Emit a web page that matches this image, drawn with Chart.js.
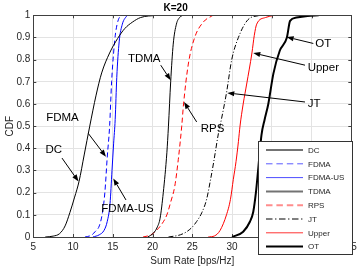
<!DOCTYPE html>
<html>
<head>
<meta charset="utf-8">
<script src="https://cdn.jsdelivr.net/npm/chart.js@4.4.1/dist/chart.umd.min.js"></script>
<style>
  html, body { margin: 0; padding: 0; background: #fff; }
  #wrap { width: 357px; height: 267px; }
</style>
</head>
<body>
<div id="wrap"><canvas id="cdf" width="357" height="267"></canvas></div>
<script>
// ---- data (sum rate in bps/Hz vs CDF) ----
const seriesNames = ["DC", "FDMA", "FDMA-US", "TDMA", "RPS", "JT", "Upper", "OT"];

const dcX = [6.5, 7.5, 8.3, 9.0, 9.6, 10.2, 10.75, 11.4, 12.1, 12.9, 13.6, 14.6, 15.6, 16.5, 17.5, 18.5, 20.5];
const dcY = [0, 0.004, 0.015, 0.05, 0.11, 0.18, 0.25, 0.37, 0.5, 0.64, 0.74, 0.83, 0.895, 0.94, 0.97, 0.99, 1];

const fdmaX = [11.5, 12.3, 12.8, 13.3, 13.7, 14.0, 14.3, 14.6, 14.85, 15.1, 15.35, 15.7, 16.1];
const fdmaY = [0, 0.008, 0.025, 0.05, 0.11, 0.2, 0.36, 0.5, 0.7, 0.83, 0.92, 0.98, 1];

const fdmaUsX = [12.5, 13.3, 13.9, 14.3, 14.65, 14.9, 15.1, 15.3, 15.5, 15.8, 16.2, 16.8];
const fdmaUsY = [0, 0.01, 0.03, 0.07, 0.15, 0.3, 0.42, 0.53, 0.72, 0.88, 0.96, 1];

const tdmaX = [19.4, 20.1, 20.6, 20.95, 21.35, 21.8, 22.0, 22.28, 22.6, 23.0, 23.4, 23.8];
const tdmaY = [0, 0.017, 0.045, 0.085, 0.2, 0.38, 0.5, 0.7, 0.87, 0.96, 0.99, 1];

const rpsX = [18.8, 19.8, 20.5, 21.2, 21.8, 22.3, 22.8, 23.24, 23.67, 23.9, 24.5, 25.3, 26.4, 27.6];
const rpsY = [0, 0.01, 0.03, 0.06, 0.1, 0.16, 0.23, 0.35, 0.5, 0.6, 0.78, 0.9, 0.97, 1];

const jtX = [22.0, 23.5, 24.3, 25.0, 25.55, 26.2, 26.8, 27.3, 27.7, 28.3, 28.6, 29.3, 29.96, 30.8, 32.0, 33.5];
const jtY = [0, 0.01, 0.024, 0.045, 0.07, 0.11, 0.17, 0.26, 0.34, 0.47, 0.52, 0.65, 0.8, 0.9, 0.98, 1];

const upperX = [27.0, 27.8, 28.5, 29.3, 29.8, 30.16, 30.5, 30.8, 31.0, 31.4, 31.84, 32.5, 32.8, 33.1, 34.2, 35.3];
const upperY = [0, 0.005, 0.03, 0.1, 0.17, 0.26, 0.34, 0.43, 0.5, 0.6, 0.69, 0.83, 0.91, 0.96, 0.99, 1];

const otX = [30.0, 31.4, 32.26, 32.67, 33.0, 33.3, 33.7, 34.1, 34.56, 35.2, 36.0, 36.9, 37.3, 38.1, 39.5, 40.9];
const otY = [0, 0.024, 0.07, 0.114, 0.2, 0.31, 0.46, 0.53, 0.6, 0.737, 0.84, 0.9, 0.975, 0.99, 0.997, 1];

const xTicks = [5, 10, 15, 20, 25, 30, 35, 40, 45];
const yTicks = [0, 0.1, 0.2, 0.3, 0.4, 0.5, 0.6, 0.7, 0.8, 0.9, 1];

// text callouts: label centre and arrow (tail -> head), in data units
const noteText  = ["DC", "FDMA", "FDMA-US", "TDMA", "RPS", "JT", "Upper", "OT"];
const noteX     = [7.57, 8.67, 16.85, 18.95, 27.54, 40.33, 41.48, 41.48];
const noteY     = [0.392, 0.536, 0.125, 0.803, 0.488, 0.6, 0.762, 0.871];
const arrowFromX = [8.61, 11.92, 16.66, 21.03, 25.55, 39.18, 39.18, 40.22];
const arrowFromY = [0.356, 0.467, 0.167, 0.775, 0.519, 0.609, 0.775, 0.873];
const arrowToX   = [10.69, 14.14, 15.06, 22.28, 23.96, 29.4, 32.67, 36.87];
const arrowToY   = [0.25, 0.362, 0.264, 0.707, 0.609, 0.65, 0.83, 0.902];

const FONT = "'Liberation Sans', Arial, Helvetica, sans-serif";
const INK = "#262626";

function pts(xs, ys) { return xs.map((x, i) => ({ x: x, y: ys[i] })); }

function line(label, xs, ys, color, width, dash) {
  return {
    label: label,
    data: pts(xs, ys),
    borderColor: color,
    backgroundColor: color,
    borderWidth: width,
    borderDash: dash,
    pointRadius: 0,
    fill: false,
    cubicInterpolationMode: "monotone"
  };
}

const datasets = [
  line(seriesNames[0], dcX, dcY, "#000000", 1, []),
  line(seriesNames[1], fdmaX, fdmaY, "#0000ff", 1, [5, 3]),
  line(seriesNames[2], fdmaUsX, fdmaUsY, "#0000ff", 1, []),
  line(seriesNames[3], tdmaX, tdmaY, "#000000", 1, []),
  line(seriesNames[4], rpsX, rpsY, "#ff0000", 1, [5, 3]),
  line(seriesNames[5], jtX, jtY, "#000000", 1, [5, 2, 1, 2]),
  line(seriesNames[6], upperX, upperY, "#ff0000", 1, []),
  line(seriesNames[7], otX, otY, "#000000", 2, [])
];

// legend swatches look a bit washed out in the original
const legendAlpha = [0.55, 0.65, 0.7, 0.55, 0.45, 1, 0.8, 1];
const legendWidth = [2, 1, 1, 2, 2, 1, 1, 2];

// ---- drawing helpers ----
const boxPlugin = {
  id: "box",
  beforeDatasetsDraw(chart) {
    const { ctx, chartArea: a, scales } = chart;
    ctx.save();
    ctx.strokeStyle = "#404040";
    ctx.lineWidth = 1;
    // inward tick marks, MATLAB style
    ctx.beginPath();
    xTicks.forEach(v => {
      const px = Math.round(scales.x.getPixelForValue(v)) + 0.5;
      ctx.moveTo(px, a.bottom); ctx.lineTo(px, a.bottom - 3);
      ctx.moveTo(px, a.top); ctx.lineTo(px, a.top + 3);
    });
    yTicks.forEach(v => {
      const py = Math.round(scales.y.getPixelForValue(v)) + 0.5;
      ctx.moveTo(a.left, py); ctx.lineTo(a.left + 3, py);
      ctx.moveTo(a.right, py); ctx.lineTo(a.right - 3, py);
    });
    ctx.stroke();
    ctx.restore();
  },
  afterDatasetsDraw(chart) {
    const { ctx, chartArea: a, scales } = chart;
    ctx.save();
    ctx.strokeStyle = "#404040";
    ctx.lineWidth = 1;
    ctx.strokeRect(Math.round(a.left) + 0.5, Math.round(a.top) + 0.5,
      Math.round(a.right - a.left), Math.round(a.bottom - a.top));

    // callouts
    ctx.fillStyle = "#000";
    ctx.strokeStyle = "#000";
    ctx.font = "11.5px " + FONT;
    ctx.textAlign = "center";
    ctx.textBaseline = "middle";
    noteText.forEach((t, i) => {
      ctx.fillText(t, scales.x.getPixelForValue(noteX[i]), scales.y.getPixelForValue(noteY[i]));
      const x0 = scales.x.getPixelForValue(arrowFromX[i]);
      const y0 = scales.y.getPixelForValue(arrowFromY[i]);
      const x1 = scales.x.getPixelForValue(arrowToX[i]);
      const y1 = scales.y.getPixelForValue(arrowToY[i]);
      const ang = Math.atan2(y1 - y0, x1 - x0);
      const hl = 7, hw = 2.6;
      ctx.beginPath();
      ctx.moveTo(x0, y0);
      ctx.lineTo(x1 - Math.cos(ang) * hl, y1 - Math.sin(ang) * hl);
      ctx.lineWidth = 1;
      ctx.stroke();
      ctx.beginPath();
      ctx.moveTo(x1, y1);
      ctx.lineTo(x1 - Math.cos(ang) * hl - Math.sin(ang) * hw, y1 - Math.sin(ang) * hl + Math.cos(ang) * hw);
      ctx.lineTo(x1 - Math.cos(ang) * hl + Math.sin(ang) * hw, y1 - Math.sin(ang) * hl - Math.cos(ang) * hw);
      ctx.closePath();
      ctx.fill();
    });
    ctx.restore();
  },
  afterDraw(chart) {
    // legend box sits over the lower right corner, across the x axis
    const { ctx } = chart;
    const bx = 258.5, by = 141.5, bw = 94, bh = 113;
    ctx.save();
    ctx.fillStyle = "#fff";
    ctx.fillRect(bx, by, bw, bh);
    ctx.strokeStyle = "#333";
    ctx.lineWidth = 1;
    ctx.strokeRect(bx, by, bw, bh);
    ctx.font = "8px " + FONT;
    ctx.textAlign = "left";
    ctx.textBaseline = "middle";
    chart.data.datasets.forEach((ds, i) => {
      const y = 150 + i * 13.8;
      ctx.save();
      ctx.globalAlpha = legendAlpha[i];
      ctx.strokeStyle = ds.borderColor;
      ctx.lineWidth = legendWidth[i];
      ctx.setLineDash(ds.borderDash.length ? ds.borderDash.map(d => d * 1.3) : []);
      ctx.beginPath();
      ctx.moveTo(266, y);
      ctx.lineTo(303, y);
      ctx.stroke();
      ctx.restore();
      ctx.fillStyle = INK;
      ctx.fillText(ds.label, 308, y + 0.5);
    });
    ctx.restore();
  }
};

new Chart(document.getElementById("cdf").getContext("2d"), {
  type: "line",
  data: { datasets: datasets },
  plugins: [boxPlugin],
  options: {
    responsive: false,
    animation: false,
    events: [],
    layout: { padding: { left: 0, right: 5.7, top: 0, bottom: 0 } },
    plugins: {
      legend: { display: false },
      tooltip: { enabled: false },
      title: {
        display: true,
        text: "K=20",
        color: "#000",
        font: { family: FONT, size: 10, weight: "bold" },
        padding: { top: 2.3, bottom: 1 }
      }
    },
    scales: {
      x: {
        type: "linear",
        min: 5,
        max: 45,
        afterBuildTicks: s => { s.ticks = xTicks.map(v => ({ value: v })); },
        afterFit: s => { s.height = 30; s.paddingLeft = 0; s.paddingRight = 0; },
        ticks: { color: INK, font: { family: FONT, size: 10 }, padding: 4, maxRotation: 0, autoSkip: false },
        grid: { color: "#e3e3e3", drawTicks: false },
        border: { display: true, color: "#404040" },
        title: {
          display: true,
          text: "Sum Rate [bps/Hz]",
          color: INK,
          font: { family: FONT, size: 10 },
          padding: { top: 0, bottom: 0 }
        }
      },
      y: {
        type: "linear",
        min: 0,
        max: 1,
        afterBuildTicks: s => { s.ticks = yTicks.map(v => ({ value: v })); },
        afterFit: s => { s.width = 33.3; s.paddingTop = 0; s.paddingBottom = 0; },
        ticks: { color: INK, font: { family: FONT, size: 10 }, padding: 3, autoSkip: false,
                 callback: v => String(Math.round(v * 10) / 10) },
        grid: { color: "#e3e3e3", drawTicks: false },
        border: { display: true, color: "#404040" },
        title: {
          display: true,
          text: "CDF",
          color: INK,
          font: { family: FONT, size: 10 },
          padding: { top: 4, bottom: 0 }
        }
      }
    }
  }
});
</script>
</body>
</html>
